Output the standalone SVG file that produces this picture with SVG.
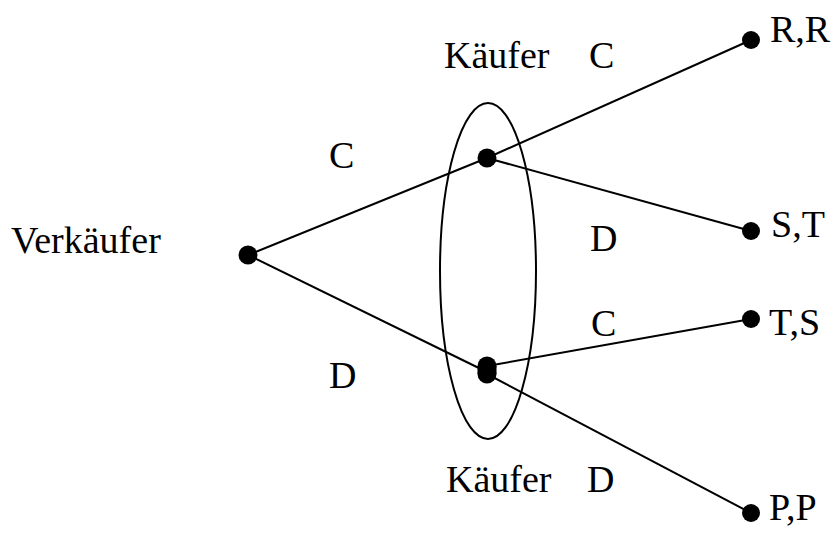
<svg xmlns="http://www.w3.org/2000/svg" width="840" height="538" viewBox="0 0 840 538">
<style>
text{font-family:"Liberation Serif","Times New Roman",serif;font-size:38px;fill:#000}
.e{stroke:#000;stroke-width:2;fill:none}
.d{fill:#000}
</style>
<rect width="840" height="538" fill="#fff"/>
<g id="connectors">
<line class="e" x1="248" y1="255" x2="487" y2="158"/>
<line class="e" x1="248" y1="255" x2="487" y2="372"/>
<line class="e" x1="487" y1="158" x2="751" y2="40"/>
<line class="e" x1="487" y1="158" x2="751" y2="231"/>
<line class="e" x1="487" y1="366" x2="751" y2="319"/>
<line class="e" x1="487" y1="374" x2="751" y2="513"/>
</g>
<g id="infoset"><ellipse class="e" cx="488" cy="271" rx="48" ry="168"/></g>
<g id="root"><circle class="d" cx="248" cy="255" r="9.5"/><text x="11" y="253">Verkäufer</text></g>
<g id="buyer-top"><circle class="d" cx="487" cy="158" r="9.5"/><text x="444" y="68">Käufer</text></g>
<g id="buyer-bottom"><circle class="d" cx="487" cy="366" r="9.5"/><circle class="d" cx="487" cy="374" r="9.5"/><rect class="d" x="477.5" y="366" width="19" height="8"/><text x="446" y="492">Käufer</text></g>
<g id="leaf-rr"><circle class="d" cx="751" cy="40" r="9"/><text x="770" y="42">R,R</text></g>
<g id="leaf-st"><circle class="d" cx="751" cy="231" r="9"/><text x="771" y="237">S,T</text></g>
<g id="leaf-ts"><circle class="d" cx="751" cy="319" r="9"/><text x="769" y="335">T,S</text></g>
<g id="leaf-pp"><circle class="d" cx="751" cy="513" r="9"/><text x="769" y="520">P,P</text></g>
<g id="labels">
<text x="329" y="168">C</text>
<text x="329" y="388">D</text>
<text x="589" y="68">C</text>
<text x="590" y="251">D</text>
<text x="591" y="336">C</text>
<text x="587" y="492">D</text>
</g>
</svg>
